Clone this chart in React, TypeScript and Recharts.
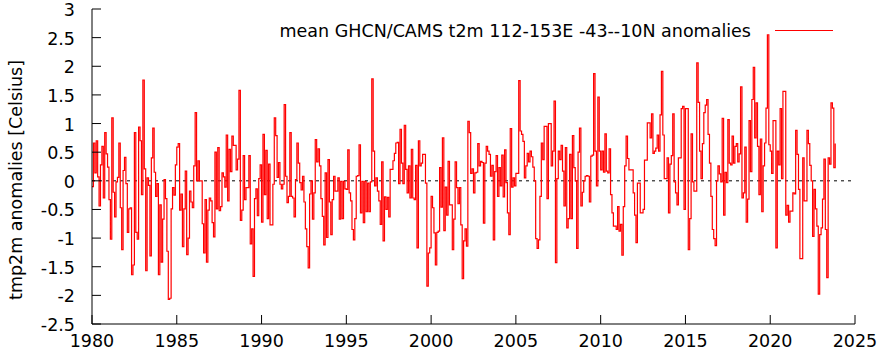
import { Legend, Line, LineChart, ReferenceLine, XAxis, YAxis } from "recharts";

// monthly anomalies, Jan 1980 onward
const anom1980 = [
  -0.1, 0.66, 0.14, 0.7, 0.07, -0.44, 0.28, 0.6, -0.3, 0.84, 0.47, 0.24, -0.33, -1.02, 1.1, -0.2, -0.63, -0.02,
  0.06, 0.66, -0.47, -1.2, 0.18, 0.41, -0.05, -0.9, -0.49, -0.47, -1.64, -1.47, 0.84, -0.9, -1.02, 0.94, 0.7,
  -0.24, 1.76, 0.21, -1.57, 0.05, -0.08, -1.31, 0.4, 0.92, 0.15, -0.27, -0.05, -1.64, -0.42, -1.42, -0.67, 0.02,
  -0.31, -1.23,
];
const anom1984 = [
  -2.07, -2.05, -0.49, -0.12, -0.25, 0.28, 0.59, 0.65, -0.51, -0.23, -1.15, -0.49, 0.17, -1.29, -1.0, -0.18,
  -0.37, -0.47, 0.26, 1.19, 0, 0.35, 0.0, 0.0, -0.75, -1.26, -0.33, -1.42, -0.51, -0.3, -0.35, -0.73, -0.98, 0.5,
  -0.49, 0.58, -0.52, -0.45, 0.14, 0.07, -0.11, 0.8, -0.35, 0.55, 0.16, 0.78, 0.62, 0.62, 0.19, 0.38, 1.58, -0.69,
  -0.51,
];
const anom1989 = [
  0.44, -0.33, -0.12, -0.12, 0.44, -1.1, -0.84, -1.67, -0.31, -0.14, -0.61, 0.04, 0.28, -0.72, 0.81, -0.24, 0.53,
  -0.66, 0.29, -0.77, -0.77, -0.06, 1.1, 0.79, 0.06, 0.32, -0.06, -0.14, -0.06, 1.33, 0.08, -0.38, -0.27, 0.84,
  -0.27, -0.3, -0.63, 0.02, 0.66, 0.31, -0.03, -0.16, 0.08, -0.37, -0.84, -1.15, -1.52, -0.23, 0, -0.67, -0.21,
  0.72, 0.33,
];
const anom1993 = [
  0.56, 0.26, -0.31, -0.62, -1.12, 0.14, -0.99, 0.37, -0.37, -0.94, -0.33, 0.08, -0.18, -0.18, 0.05, -0.67, -0.01,
  -0.66, -0.01, -0.14, -0.15, 0.54, -0.21, -0.35, -0.85, -1.03, -0.66, 0.08, 0.09, 0.63, -0.56, -0.01, -0.73,
  -0.01, -0.54, -0.04, -0.54, -0.02, 1.78, 0.52, -0.09, 0.05, -0.18, -0.35, -0.76, 0.33, -1.05, -0.28, -0.5, -0.29,
  -0.63, 0.2, 0.2,
];
const anom1997 = [
  0.35, 0.48, 0.66, 0.67, -0.05, 0.9, 0.31, -0.05, 0.97, 0.2, -0.21, 0.26, -0.3, 0.55, -0.3, -0.33, 0.27, -1.17,
  0.7, 0.26, 0.31, 0.46, 0.46, -0.04, -1.84, -1.26, -1.17, -0.27, -0.47, -0.91, -1.47, -0.9, -0.88, 0.23, -0.46,
  0.75, -0.87, -0.11, -0.6, 0.34, -0.42, -0.42, -1.2, -0.67, 0.33, -0.12, -0.4, -0.12, -0.77, -1.71, -1.05, -0.84,
  -1.14,
];
const anom2002 = [
  1.04, 0.84, 0.13, 0.21, -0.21, 0.14, 0.15, 0.65, 0.26, 0.34, 0.32, -0.74, 0.31, 0.6, 0.52, 0.46, 0.08, 0.27,
  -1.03, 0.16, 0.44, -0.27, 0.23, -0.09, 0.45, -0.28, 0.54, -0.03, -0.56, -0.94, 0.91, -0.11, 0.05, -0.09, 0.13,
  0.13, 1.75, 0.87, 0.81, 0.69, 0.05, 0.26, 0.48, 0.33, 0.52, 0.42, 0.24, 0.0, -1.01, -1.18, -1.03, -0.27, 0.66,
];
const anom2006 = [
  0.37, 0.95, 0.95, -0.31, 1.0, 1.0, 0.26, 0.52, 1.39, -1.43, 0.04, 0.52, 0.37, 0.62, 0.17, -0.44, 0.58, -0.82,
  -0.66, 0.46, -0.66, 0.79, 0.23, 0.0, -1.18, 0.5, 0.92, -0.44, -0.2, 0.0, 0.08, 0.09, 0.08, -0.37, 0.43, 0.45,
  1.87, 0.52, -0.09, 1.46, 0.52, 0.19, 0.52, 0.15, 0.82, 0.17, 0.14, 0.56, -0.24, -0.56, -0.79, -0.79, -0.85,
];
const anom2011 = [
  -0.45, -0.88, -0.76, -1.3, -0.45, 0.26, 0.78, 0.39, 0.19, 0.19, 0.19, -0.21, -0.6, -1.08, -0.04, -0.04, -0.56,
  -0.56, -0.5, 0.36, 0.36, 1.01, 1.01, 0.75, 1.17, 0.48, 0.52, 0.57, 0.8, 0.52, 1.15, 1.91, 0.8, 0.04, 0.04, 0.4,
  -0.56, 0.29, 0.44, 1.17, -0.02, -0.21, -0.42, 0.4, 0.4, 1.26, 1.3, -0.5, 1.26, 1.26, -1.2, -0.66, 0.82,
];
const anom2015 = [
  -0.02, -0.18, -0.18, 2.06, 1.37, 0.52, 0.04, 0.65, 1.19, 1.32, 1.42, 0.81, 0.31, -0.27, -0.85, -1.01, -1.13, 0.0,
  0.26, 0.12, -0.02, 1.09, -0.6, 0.15, -0.03, 1.07, 0.31, 0.28, 0.78, 0.31, 0.6, 0.65, 0.33, 0.47, 1.64, -0.3,
  -0.21, 0.59, -0.72, -0.32, 1.05, 0.16, 1.42, 1.98, 0.75, 1.36, 0.6, -0.24, 0.73, -0.54, 0.26, 0.66, 1.27,
];
const anom2019 = [
  2.55, 0.63, 0.52, 0.13, 1.05, 1.05, -1.17, 0.52, 0.28, 1.26, 0.04, 1.56, 1.56, -0.6, -0.43, -0.72, -0.53, -0.53,
  -0.21, -0.23, 0.88, 0.46, -0.15, -1.36, -1.36, 0.4, -0.35, -0.35, 0.88, 0.65, 0.27, 0.0, -0.97, -0.15, -0.49,
  -0.79, -1.98, -0.94, -0.82, -0.32, 0.38, -0.85, -1.69, 0.4, 0.29, 1.36, 1.27, 0.23, 0.65,
];

const startYear = 1980;
const xTicks = [1980, 1985, 1990, 1995, 2000, 2005, 2010, 2015, 2020, 2025];
const yTicks = [-2.5, -2, -1.5, -1, -0.5, 0, 0.5, 1, 1.5, 2, 2.5, 3];
const seriesName = "mean GHCN/CAMS t2m 112-153E -43--10N anomalies";

const values = [
  ...anom1980, ...anom1984, ...anom1989, ...anom1993, ...anom1997,
  ...anom2002, ...anom2006, ...anom2011, ...anom2015, ...anom2019,
];
const data = values.map((v, i) => ({ t: startYear + i / 12, v }));

const FONT = "DejaVu Sans, sans-serif";
const FS = 17.5;
const TICK = 9;

const BottomTick = ({ x, y, payload }: any) => (
  <g>
    <line x1={x} y1={y} x2={x} y2={y - TICK} stroke="#000" />
    <text x={x} y={y + 23} textAnchor="middle" fontSize={FS} fontFamily={FONT} fill="#000">
      {payload.value}
    </text>
  </g>
);
const TopTick = ({ x, y }: any) => <line x1={x} y1={y} x2={x} y2={y + TICK} stroke="#000" />;
const LeftTick = ({ x, y, payload }: any) => (
  <g>
    <line x1={x} y1={y} x2={x + TICK} y2={y} stroke="#000" />
    <text x={x - 17} y={y + 7} textAnchor="end" fontSize={FS} fontFamily={FONT} fill="#000">
      {payload.value}
    </text>
  </g>
);
const RightTick = ({ x, y }: any) => <line x1={x} y1={y} x2={x - TICK} y2={y} stroke="#000" />;

const YLabel = ({ viewBox }: any) => {
  const cx = viewBox.x + 4;
  const cy = 180;
  return (
    <text
      x={cx}
      y={cy}
      transform={`rotate(-90 ${cx} ${cy})`}
      textAnchor="middle"
      dominantBaseline="central"
      fontSize={FS}
      fontFamily={FONT}
      fill="#000"
    >
      tmp2m anomalies [Celsius]
    </text>
  );
};

const LegendBox = ({ payload }: any) => (
  <div style={{ position: "relative", height: 34, fontFamily: FONT, fontSize: FS }}>
    <span style={{ position: "absolute", right: 127, top: 0, lineHeight: "34px", whiteSpace: "nowrap" }}>
      {payload?.[0]?.value}
    </span>
    <div style={{ position: "absolute", left: 775, top: 16, width: 58, height: 1.2, background: "#ff0000" }} />
  </div>
);

export default function App() {
  return (
    <div style={{ position: "absolute", left: 0, top: 0, background: "#fff" }}>
      <LineChart width={878} height={354} data={data} margin={{ top: 9, right: 23, left: 12, bottom: 6 }}>
        <XAxis
          dataKey="t"
          type="number"
          domain={[1980, 2025]}
          ticks={xTicks}
          allowDataOverflow
          height={24}
          tickSize={0}
          tickMargin={0}
          tickLine={false}
          tick={<BottomTick />}
          axisLine={{ stroke: "#000" }}
        />
        <XAxis
          xAxisId="top"
          orientation="top"
          type="number"
          domain={[1980, 2025]}
          ticks={xTicks}
          height={0}
          tickSize={0}
          tickMargin={0}
          tickLine={false}
          tick={<TopTick />}
          axisLine={{ stroke: "#000" }}
        />
        <YAxis
          type="number"
          domain={[-2.5, 3]}
          ticks={yTicks}
          allowDataOverflow
          width={80}
          tickSize={0}
          tickMargin={0}
          tickLine={false}
          tick={<LeftTick />}
          axisLine={{ stroke: "#000" }}
          label={<YLabel />}
        />
        <YAxis
          yAxisId="right"
          orientation="right"
          type="number"
          domain={[-2.5, 3]}
          ticks={yTicks}
          width={0}
          tickSize={0}
          tickMargin={0}
          tickLine={false}
          tick={<RightTick />}
          axisLine={{ stroke: "#000" }}
        />
        <ReferenceLine y={0} stroke="#000" strokeDasharray="3 4" />
        <Legend
          layout="horizontal"
          verticalAlign="middle"
          align="center"
          wrapperStyle={{ top: 14, left: 0, width: 878 }}
          content={<LegendBox />}
        />
        <Line
          name={seriesName}
          dataKey="v"
          type="stepAfter"
          stroke="#ff0000"
          strokeWidth={1.2}
          dot={false}
          activeDot={false}
          isAnimationActive={false}
        />
      </LineChart>
    </div>
  );
}
